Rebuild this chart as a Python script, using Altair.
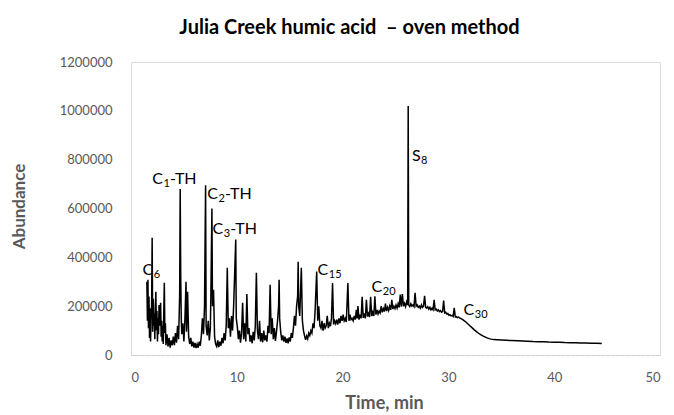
import altair as alt
import pandas as pd

# Chromatogram: retention time (min) / abundance (thousands), by segment
t1 = [1.50, 1.55, 1.60, 1.65, 1.70, 1.75, 1.80, 1.85, 1.90, 1.95, 2.00, 2.05, 2.10, 2.15, 2.20, 2.25,
      2.30, 2.35, 2.40, 2.45, 2.50, 2.55, 2.60, 2.65, 2.70, 2.75, 2.80, 2.85, 2.90, 2.95, 3.00, 3.05,
      3.10, 3.15, 3.20, 3.25, 3.30, 3.40, 3.50, 3.60, 3.70, 3.80, 3.90, 4.00, 4.10, 4.20, 4.30, 4.40, 4.50]
v1 = [300, 140, 308, 110, 240, 70, 190, 55, 160, 210, 480, 95, 230, 120, 170, 65,
      200, 259, 100, 180, 55, 150, 85, 205, 120, 170, 214, 75, 140, 55, 120, 45,
      180, 296, 90, 130, 40, 85, 35, 70, 30, 60, 40, 75, 40, 90, 50, 120, 65]

t2 = [4.60, 4.65, 4.70, 4.75, 4.80, 4.90, 5.00, 5.10, 5.20, 5.25, 5.35, 5.45, 5.55, 5.65, 5.75,
      5.85, 5.95, 6.05, 6.15, 6.25, 6.35, 6.45, 6.55, 6.65, 6.75, 6.85, 6.95, 7.05, 7.10, 7.20,
      7.30, 7.40, 7.50, 7.55, 7.65, 7.70, 7.80, 7.90, 8.00, 8.10, 8.20, 8.30, 8.40, 8.50, 8.60,
      8.70, 8.80, 8.90, 9.00, 9.10, 9.20, 9.30, 9.40, 9.50, 9.60, 9.70, 9.90, 9.95, 10.05, 10.15,
      10.25, 10.35, 10.45, 10.55, 10.65, 10.75, 10.85, 10.95, 11.05, 11.15, 11.25, 11.35, 11.45,
      11.55, 11.65, 11.75, 11.85, 11.95]
v2 = [250, 680, 320, 150, 85, 130, 55, 150, 300, 95, 259, 75, 45, 70, 35,
      55, 30, 50, 28, 45, 30, 55, 38, 80, 150, 85, 200, 695, 120, 80,
      140, 60, 110, 250, 600, 200, 267, 75, 45, 35, 60, 32, 55, 38, 70,
      48, 90, 60, 120, 357, 110, 150, 75, 160, 100, 200, 473, 150, 115, 65,
      100, 50, 90, 214, 65, 130, 55, 250, 85, 110, 55, 80, 48,
      95, 60, 120, 337, 100]

t3 = [12.05, 12.15, 12.25, 12.35, 12.45, 12.55, 12.65, 12.75, 12.85, 12.95, 13.05, 13.15, 13.25,
      13.35, 13.45, 13.55, 13.65, 13.75, 13.85, 13.95, 14.00, 14.05, 14.15, 14.25, 14.35, 14.45,
      14.55, 14.65, 14.75, 14.85, 14.95, 15.05, 15.15, 15.25, 15.35, 15.45, 15.55, 15.65, 15.75,
      15.80, 15.85, 15.95]
v3 = [65, 140, 55, 90, 52, 100, 60, 80, 55, 120, 90, 288, 85,
      150, 65, 110, 58, 95, 140, 200, 308, 150, 95, 60, 80, 55,
      75, 50, 68, 48, 72, 55, 90, 70, 110, 160, 120, 200, 240,
      382, 200, 160]

t4 = [16.10, 16.20, 16.30, 16.40, 16.50, 16.60, 16.70, 16.80, 16.90, 17.00, 17.10, 17.20, 17.30,
      17.40, 17.55, 17.65, 17.75, 17.85, 17.95, 18.05, 18.15, 18.25, 18.35, 18.45, 18.55, 18.65,
      18.75, 18.85, 18.95, 19.05, 19.15, 19.25, 19.35, 19.45, 19.55, 19.65, 19.75, 19.85, 19.95,
      20.05, 20.15, 20.25, 20.35, 20.50, 20.60, 20.70, 20.80, 20.90, 21.00, 21.10, 21.20]
v4 = [357, 140, 100, 80, 62, 78, 66, 90, 80, 100, 90, 130, 110,
      180, 342, 140, 200, 120, 110, 140, 100, 130, 110, 120, 160, 110,
      130, 118, 150, 295, 125, 140, 128, 145, 125, 150, 130, 160, 140,
      165, 140, 150, 135, 295, 140, 165, 145, 150, 140, 160, 145]

t5 = [21.30, 21.38, 21.45, 21.55, 21.65, 21.75, 21.85, 21.95, 22.05, 22.15, 22.25, 22.35, 22.45,
      22.55, 22.65, 22.75, 22.85, 22.95, 23.05, 23.15, 23.25, 23.35, 23.45, 23.55, 23.65, 23.75,
      23.85, 23.95, 24.05, 24.15, 24.25, 24.35, 24.45, 24.55, 24.65, 24.75, 24.85, 24.95, 25.05,
      25.15, 25.25, 25.35, 25.45, 25.55, 25.65, 25.75, 25.85, 25.95, 26.05, 26.15]
v5 = [185, 150, 200, 145, 165, 150, 238, 152, 170, 150, 226, 158, 170,
      155, 238, 160, 175, 160, 240, 165, 185, 168, 180, 172, 200, 175,
      190, 178, 210, 180, 195, 182, 200, 185, 226, 188, 200, 190, 205,
      192, 210, 195, 247, 198, 250, 200, 212, 198, 218, 205]

t6 = [26.20, 26.25, 26.35, 26.45, 26.55, 26.65, 26.75, 26.85, 26.95, 27.05, 27.15, 27.25, 27.35,
      27.45, 27.55, 27.65, 27.75, 27.85, 27.95, 28.05, 28.15, 28.25, 28.35, 28.45, 28.55, 28.65,
      28.75, 28.85, 28.95, 29.05, 29.15, 29.25, 29.35, 29.45, 29.55, 29.65, 29.75, 29.85, 29.95,
      30.05, 30.15, 30.25, 30.35, 30.45, 30.55, 30.65, 30.75, 30.85, 30.95, 31.05]
v6 = [1020, 205, 198, 210, 200, 205, 198, 255, 200, 205, 195, 200, 192,
      205, 195, 200, 242, 195, 192, 198, 188, 195, 185, 192, 185, 226,
      185, 188, 180, 185, 178, 182, 175, 178, 223, 172, 175, 168, 170,
      163, 165, 160, 162, 158, 193, 156, 157, 153, 155, 152]

t7 = [31.25, 31.45, 31.65, 31.85, 32.05, 32.25, 32.45, 32.65, 32.85, 33.05, 33.25, 33.45, 33.65,
      33.85, 34.05, 34.30, 34.60, 35.00, 35.50, 36.00, 36.50, 37.00, 37.50, 38.00, 38.50, 39.00,
      39.50, 40.00, 40.50, 41.00, 41.50, 42.00, 42.50, 43.00, 43.50, 44.00, 44.50]
v7 = [148, 142, 135, 127, 119, 111, 103, 96, 89, 83, 78, 74, 70,
      67, 65, 63, 62, 61, 60, 59, 58, 57, 56, 55, 54.5, 54,
      53, 52.5, 52, 51, 50.5, 50, 49.5, 49, 48.5, 48, 47.5]

# Peak annotations: letter, subscript, suffix; anchor time (min) at the subscript, abundance
ann_base = ["C", "C", "C", "C", "C", "C", "C", "S"]
ann_sub = ["6", "1", "2", "3", "15", "20", "30", "8"]
ann_suffix = ["", "-TH", "-TH", "-TH", "", "", "", ""]
ann_time = [2.11, 3.02, 8.22, 8.72, 18.65, 23.75, 32.45, 27.37]
ann_abund = [350000, 722000, 660000, 518000, 349000, 280000, 185000, 814000]

times = t1 + t2 + t3 + t4 + t5 + t6 + t7
abund_k = v1 + v2 + v3 + v4 + v5 + v6 + v7
assert len(times) == len(abund_k)

df = pd.DataFrame({"t": times, "v": [a * 1000 for a in abund_k]})
ann = pd.DataFrame({"t": ann_time, "v": ann_abund, "base": ann_base,
                    "sub": ann_sub, "suffix": ann_suffix})

FONT = "Lato"
GREY = "#595959"

x = alt.X(
    "t:Q",
    scale=alt.Scale(domain=[0, 50], nice=False),
    axis=alt.Axis(
        title="Time, min", values=[0, 10, 20, 30, 40, 50], grid=False, ticks=False,
        domainColor="#cfcfcf", domainDash=[3, 2], labelColor=GREY, labelFontSize=13,
        labelFont=FONT, labelPadding=16, titleFont=FONT, titleFontSize=18,
        titleFontWeight="bold", titleColor=GREY, titleX=253, titleY=48,
        titleBaseline="middle", titleAlign="center",
    ),
)
y = alt.Y(
    "v:Q",
    scale=alt.Scale(domain=[0, 1200000], nice=False),
    axis=alt.Axis(
        title="Abundance", values=[0, 200000, 400000, 600000, 800000, 1000000, 1200000],
        format="d", grid=False, ticks=False, domainColor="#d9d9d9", labelColor=GREY,
        labelFontSize=13, labelFont=FONT, labelPadding=19, titleFont=FONT,
        titleFontSize=17, titleFontWeight="bold", titleColor=GREY, titleX=-112,
        titleY=144, titleAngle=-90, titleAlign="center", titleBaseline="middle",
    ),
)

line = alt.Chart(df).mark_line(color="black", strokeWidth=1.5).encode(x=x, y=y)

base_txt = alt.Chart(ann).mark_text(
    align="right", baseline="middle", font=FONT, fontSize=16, color="black"
).encode(x="t:Q", y="v:Q", text="base:N")
sub_txt = alt.Chart(ann).mark_text(
    align="left", baseline="middle", font=FONT, fontSize=11, color="black", dx=0.5, dy=5
).encode(x="t:Q", y="v:Q", text="sub:N")
suf_txt = alt.Chart(ann).mark_text(
    align="left", baseline="middle", font=FONT, fontSize=16, color="black", dx=7
).encode(x="t:Q", y="v:Q", text="suffix:N")

chart = (
    alt.layer(line, base_txt, sub_txt, suf_txt)
    .properties(
        width=529,
        height=293,
        autosize=alt.AutoSizeParams(type="none"),
        padding={"left": 131, "top": 62, "right": 14, "bottom": 60},
        title=alt.TitleParams(
            "Julia Creek humic acid \u00a0\u2013 oven method", font=FONT, fontSize=20,
            fontWeight="bold", color="black", anchor="middle", frame="group",
            dx=-46, offset=18,
        ),
    )
    .configure_view(stroke=None)
    .configure(background="white")
)

chart.save("out.html", embed_options={"renderer": "svg", "actions": False})
